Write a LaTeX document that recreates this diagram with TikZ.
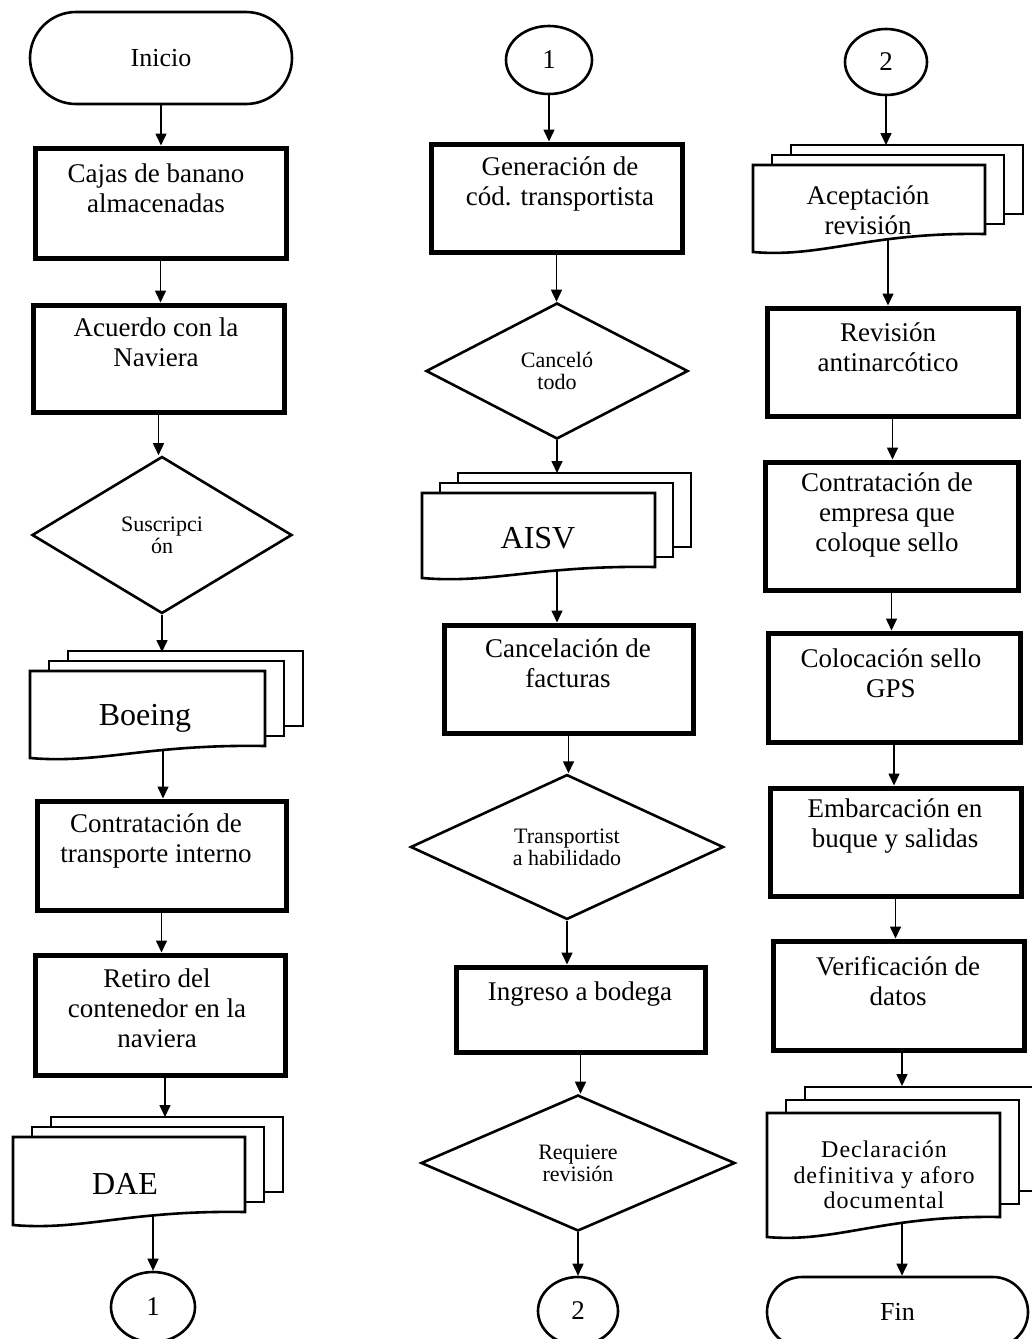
\documentclass[tikz,border=0pt]{standalone}
\usepackage{fontspec}
\setmainfont{Liberation Serif}
\usetikzlibrary{shapes.geometric,shapes.misc,arrows.meta}
\pgfdeclarelayer{background}
\pgfsetlayers{background,main}

% stack of three sheets: #1 left, #2 right, #3 top, #4 wave y at left,
% #5 wave y at right, #6 sheet shift x, #7 sheet shift y
\newcommand\docstack[7]{%
  \draw[docline] (#1+2*#6,#3-2*#7) rectangle (#2+2*#6,#5-2*#7);
  \draw[docline] (#1+#6,#3-#7) rectangle (#2+#6,#5-#7);
  \draw[docline] (#1,#3) -- (#2,#3) -- (#2,#5)
    .. controls ({#1+0.5*(#2-#1)},#5-2) and ({#1+0.3*(#2-#1)},#4+6) .. (#1,#4) -- cycle;
}

\begin{document}
\begin{tikzpicture}[x=1pt,y=-1pt,
  procbox/.style={draw, line width=5pt, fill=white, inner sep=0pt},
  term/.style={draw, rounded rectangle, line width=2.6pt, fill=white, inner sep=0pt,
    font=\fontsize{26}{30}\selectfont},
  conn/.style={draw, ellipse, line width=2.6pt, fill=white, inner sep=0pt,
    font=\fontsize{27}{30}\selectfont},
  decis/.style={draw, diamond, line width=2.6pt, fill=white, inner sep=0pt, align=center,
    font=\fontsize{22}{22}\selectfont},
  docline/.style={draw, line width=2.6pt, fill=white, line join=miter},
  txt/.style={align=center, inner sep=0pt, font=\fontsize{27}{30}\selectfont},
  bigtxt/.style={inner sep=0pt, font=\fontsize{32}{36}\selectfont},
  arr/.style={-{Triangle[length=12pt,width=11pt]}, line width=1.6pt}]

\clip (0,0) rectangle (1032,1339);
\begin{pgfonlayer}{background}
  \fill[white] (0,0) rectangle (1032,1339);
\end{pgfonlayer}

% ---------- first column ----------
\node[term, minimum width=262pt, minimum height=92pt] (inicio) at (161,58) {Inicio};
\node[procbox, minimum width=251pt, minimum height=110pt] (cajas) at (160.5,203) {};
\node[txt] (t-cajas) at (156,188) {Cajas de banano\\almacenadas};
\node[procbox, minimum width=251pt, minimum height=107pt] (acuerdo) at (158.5,358.5) {};
\node[txt] (t-acuerdo) at (156,342) {Acuerdo con la\\Naviera};
\node[decis, minimum width=260pt, minimum height=157pt] (susc) at (162,535) {Suscripci\\ón};
\docstack{30}{265}{671}{758}{746}{19}{10}
\node[bigtxt] (t-boeing) at (145,718) {Boeing};
\coordinate (boeing-in) at (163,652);
\coordinate (boeing-out) at (163,745);
\node[procbox, minimum width=249pt, minimum height=109pt] (contr1) at (161.5,855.5) {};
\node[txt] (t-contr1) at (156,841) {Contratación de\\transporte interno};
\node[procbox, minimum width=250pt, minimum height=120pt] (retiro) at (160,1015) {};
\node[txt] (t-retiro) at (157,1008) {Retiro del\\contenedor en la\\naviera};
\docstack{13}{245}{1137}{1225}{1212}{19}{10}
\node[bigtxt] (t-dae) at (125,1184) {DAE};
\coordinate (dae-in) at (165,1117);
\coordinate (dae-out) at (153,1208);
\node[conn, minimum width=84pt, minimum height=70pt] (c1a) at (153,1307) {1};

% ---------- second column ----------
\node[conn, minimum width=86pt, minimum height=68pt] (c1b) at (549,60) {1};
\node[procbox, minimum width=251pt, minimum height=108pt] (gen) at (556.5,198) {};
\node[txt] (t-gen) at (560,184) {Generación de\\cód. transportista};
\node[decis, minimum width=262pt, minimum height=136pt] (cancelo) at (557,371) {Canceló\\todo};
\docstack{422}{655}{493}{578}{567}{18}{10}
\node[bigtxt] (t-aisv) at (538,538) {AISV};
\coordinate (aisv-in) at (557,473);
\coordinate (aisv-out) at (557,562);
\node[procbox, minimum width=249pt, minimum height=108pt] (cancel) at (568.5,679) {};
\node[txt] (t-cancel) at (568,663) {Cancelación de\\facturas};
\node[decis, minimum width=313pt, minimum height=137pt] (transp) at (567,847) {Transportist\\a habilidado};
\node[procbox, minimum width=249pt, minimum height=85pt] (ingreso) at (580.5,1009.5) {};
\node[txt] (t-ingreso) at (580,994) {Ingreso a bodega};
\node[decis, minimum width=314pt, minimum height=136pt] (requiere) at (578,1163) {Requiere\\revisión};
\node[conn, minimum width=80pt, minimum height=68pt] (c2a) at (578,1311) {2};

% ---------- third column ----------
\node[conn, minimum width=82pt, minimum height=66pt] (c2b) at (886,62) {2};
\docstack{753}{985}{165}{252}{234}{19}{10}
\node[txt] (t-acept) at (868,210) {Aceptación\\revisión};
\coordinate (acept-in) at (886,145);
\coordinate (acept-out) at (888,230);
\node[procbox, minimum width=251pt, minimum height=108pt] (revis) at (892.5,362) {};
\node[txt] (t-revis) at (888,347) {Revisión\\antinarcótico};
\node[procbox, minimum width=253pt, minimum height=128pt] (contr2) at (891.5,526) {};
\node[txt] (t-contr2) at (887,515) {Contratación de\\empresa que\\coloque sello};
\node[procbox, minimum width=252pt, minimum height=109pt] (coloc) at (894,687.5) {};
\node[txt] (t-coloc) at (891,673) {Colocación sello\\GPS};
\node[procbox, minimum width=251pt, minimum height=108pt] (embarc) at (895.5,842) {};
\node[txt] (t-embarc) at (895,826) {Embarcación en\\buque y salidas};
\node[procbox, minimum width=251pt, minimum height=109pt] (verif) at (898.5,995.5) {};
\node[txt] (t-verif) at (898,981) {Verificación de\\datos};
\docstack{767}{1000}{1113}{1237}{1217}{19}{13}
\node[txt, font=\fontsize{24}{25.5}\selectfont\addfontfeature{LetterSpace=4}] (t-decl) at (884,1175)
  {Declaración\\definitiva y aforo\\documental};
\coordinate (decl-in) at (902,1086);
\coordinate (decl-out) at (902,1212);
\node[term, minimum width=261pt, minimum height=70pt] (fin) at (897.5,1312) {Fin};

% ---------- connectors ----------
\begin{pgfonlayer}{background}
  \draw[arr] (inicio.south) -- (inicio.south |- cajas.north);
  \draw[arr] (cajas.south) -- (cajas.south |- acuerdo.north);
  \draw[arr] (acuerdo.south) -- (acuerdo.south |- susc.north);
  \draw[arr] (susc.south) -- (susc.south |- boeing-in);
  \draw[arr] (boeing-out) -- (boeing-out |- contr1.north);
  \draw[arr] (contr1.south) -- (contr1.south |- retiro.north);
  \draw[arr] (retiro.south -| dae-in) -- (dae-in);
  \draw[arr] (dae-out) -- (dae-out |- c1a.north);

  \draw[arr] (c1b.south) -- (c1b.south |- gen.north);
  \draw[arr] (gen.south) -- (gen.south |- cancelo.north);
  \draw[arr] (cancelo.south) -- (cancelo.south |- aisv-in);
  \draw[arr] (aisv-out) -- (aisv-out |- cancel.north);
  \draw[arr] (cancel.south) -- (cancel.south |- transp.north);
  \draw[arr] (transp.south) -- (transp.south |- ingreso.north);
  \draw[arr] (ingreso.south) -- (ingreso.south |- requiere.north);
  \draw[arr] (requiere.south) -- (requiere.south |- c2a.north);

  \draw[arr] (c2b.south) -- (c2b.south |- acept-in);
  \draw[arr] (acept-out) -- (acept-out |- revis.north);
  \draw[arr] (revis.south) -- (revis.south |- contr2.north);
  \draw[arr] (contr2.south) -- (contr2.south |- coloc.north);
  \draw[arr] (coloc.south) -- (coloc.south |- embarc.north);
  \draw[arr] (embarc.south) -- (embarc.south |- verif.north);
  \draw[arr] (verif.south -| decl-in) -- (decl-in);
  \draw[arr] (decl-out) -- (decl-out |- fin.north);
\end{pgfonlayer}
\end{tikzpicture}
\end{document}
